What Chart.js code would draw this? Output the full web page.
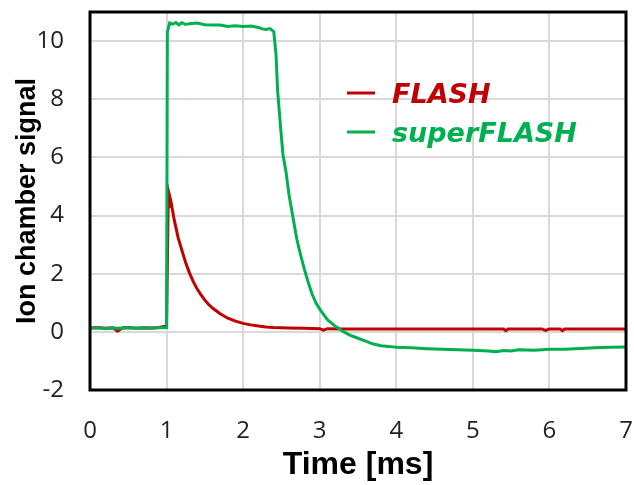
<!DOCTYPE html>
<html>
<head>
<meta charset="utf-8">
<script src="https://cdn.jsdelivr.net/npm/chart.js@4"></script>
<style>
  html, body { margin: 0; padding: 0; background: #fff; }
  #wrap { width: 634px; height: 485px; position: relative; }
</style>
</head>
<body>
<div id="wrap"><canvas id="myChart"></canvas></div>
<script>
// Ion chamber traces, time in ms
const flashTime = [0, 0.1, 0.2, 0.3, 0.36, 0.42, 0.5, 0.6, 0.7, 0.8, 0.9, 1.0, 1.02, 1.03, 1.06, 1.1, 1.15, 1.2, 1.25, 1.3, 1.35, 1.4, 1.45, 1.5, 1.55, 1.6, 1.7, 1.8, 1.9, 2.0, 2.1, 2.2, 2.3, 2.4, 2.6, 2.8, 3.0, 3.05, 3.1, 3.3, 3.6, 4.0, 4.5, 5.0, 5.4, 5.43, 5.46, 5.9, 5.95, 6.0, 6.14, 6.17, 6.2, 6.6, 7.0]
const flashSignal = [0.13, 0.15, 0.12, 0.14, 0.02, 0.13, 0.15, 0.12, 0.14, 0.13, 0.15, 0.2, 4.3, 4.78, 4.45, 3.85, 3.25, 2.8, 2.38, 2.02, 1.72, 1.47, 1.27, 1.09, 0.94, 0.82, 0.62, 0.47, 0.37, 0.29, 0.24, 0.2, 0.17, 0.15, 0.13, 0.12, 0.11, 0.06, 0.11, 0.1, 0.1, 0.1, 0.1, 0.1, 0.1, 0.04, 0.1, 0.1, 0.05, 0.1, 0.1, 0.04, 0.1, 0.1, 0.1]

const superTime = [0, 0.1, 0.2, 0.3, 0.4, 0.5, 0.6, 0.7, 0.8, 0.9, 1.0, 1.01, 1.04, 1.08, 1.12, 1.16, 1.2, 1.25, 1.3, 1.4, 1.5, 1.6, 1.7, 1.8, 1.9, 2.0, 2.1, 2.2, 2.25, 2.3, 2.35, 2.4, 2.43, 2.45, 2.49, 2.52, 2.56, 2.6, 2.65, 2.7, 2.75, 2.8, 2.85, 2.9, 2.95, 3.0, 3.1, 3.2, 3.3, 3.4, 3.5, 3.6, 3.7, 3.8, 3.9, 4.0, 4.2, 4.4, 4.6, 4.8, 5.0, 5.2, 5.3, 5.4, 5.5, 5.6, 5.8, 6.0, 6.2, 6.4, 6.6, 6.8, 7.0]
const superSignal = [0.12, 0.14, 0.11, 0.13, 0.12, 0.14, 0.12, 0.13, 0.12, 0.14, 0.15, 10.3, 10.62, 10.58, 10.64, 10.56, 10.63, 10.57, 10.6, 10.62, 10.56, 10.55, 10.55, 10.5, 10.53, 10.5, 10.52, 10.47, 10.42, 10.4, 10.43, 10.33, 9.5, 8.3, 7.0, 6.1, 5.5, 4.7, 3.95, 3.2, 2.65, 2.15, 1.7, 1.3, 1.0, 0.78, 0.42, 0.2, 0.02, -0.12, -0.22, -0.32, -0.42, -0.48, -0.5, -0.53, -0.55, -0.58, -0.6, -0.62, -0.63, -0.66, -0.68, -0.64, -0.66, -0.62, -0.63, -0.6, -0.6, -0.57, -0.55, -0.53, -0.52]

const xTicks = [0, 1, 2, 3, 4, 5, 6, 7]
const yTicks = [-2, 0, 2, 4, 6, 8, 10]

const seriesNames = ['FLASH', 'superFLASH']
const seriesColors = ['#c00000', '#00b050']

const toPoints = (xs, ys) => xs.map((x, i) => ({ x: x, y: ys[i] }))

// frame around the plot area
const framePlugin = {
  id: 'frame',
  afterDatasetsDraw(chart) {
    const { ctx, chartArea: a } = chart
    ctx.save()
    ctx.strokeStyle = '#000'
    ctx.lineWidth = 3
    ctx.strokeRect(a.left, a.top, a.right - a.left, a.bottom - a.top)
    ctx.restore()
  }
}

// legend drawn inside the plot
const insideLegend = {
  id: 'insideLegend',
  afterDatasetsDraw(chart) {
    const { ctx } = chart
    ctx.save()
    seriesNames.forEach((name, i) => {
      const y = 93 + i * 39
      ctx.strokeStyle = seriesColors[i]
      ctx.lineWidth = 3
      ctx.beginPath()
      ctx.moveTo(347, y)
      ctx.lineTo(375, y)
      ctx.stroke()
      ctx.fillStyle = seriesColors[i]
      ctx.font = 'italic bold 27px "DejaVu Sans"'
      ctx.textBaseline = 'middle'
      ctx.fillText(name, 392, y + 3)
    })
    ctx.restore()
  }
}

const canvas = document.getElementById('myChart')

const tickFont = { family: 'Open Sans', size: 24 }

const config = {
  type: 'line',
  data: {
    datasets: [
      {
        label: seriesNames[1],
        data: toPoints(superTime, superSignal),
        borderColor: seriesColors[1],
        borderWidth: 3,
        pointRadius: 0,
        tension: 0
      },
      {
        label: seriesNames[0],
        data: toPoints(flashTime, flashSignal),
        borderColor: seriesColors[0],
        borderWidth: 3,
        pointRadius: 0,
        tension: 0
      }
    ]
  },
  options: {
    responsive: true,
    maintainAspectRatio: false,
    animation: false,
    layout: { padding: { top: 12, right: 8, left: 0, bottom: 0 } },
    plugins: {
      legend: { display: false },
      tooltip: { enabled: false }
    },
    scales: {
      x: {
        type: 'linear',
        min: 0,
        max: 7,
        afterBuildTicks: s => { s.ticks = xTicks.map(v => ({ value: v })) },
        afterFit: s => {
          s.height = 95
          s.paddingLeft = 0
          s.paddingRight = 0
        },
        ticks: { color: '#222', font: tickFont, padding: 27, maxRotation: 0 },
        grid: { color: '#d9d9d9', lineWidth: 2, drawTicks: false },
        border: { display: false },
        title: {
          display: true,
          text: 'Time [ms]',
          color: '#000',
          font: { family: 'Liberation Sans', size: 32, weight: 'bold' },
          padding: { top: 0, bottom: 1 }
        }
      },
      y: {
        type: 'linear',
        min: -2,
        max: 11,
        afterBuildTicks: s => { s.ticks = yTicks.map(v => ({ value: v })) },
        afterFit: s => {
          s.width = 90
          s.paddingTop = 0
          s.paddingBottom = 0
        },
        ticks: { color: '#222', font: tickFont, padding: 26 },
        grid: { color: '#d9d9d9', lineWidth: 2, drawTicks: false },
        border: { display: false },
        title: {
          display: true,
          text: 'Ion chamber signal',
          color: '#000',
          font: { family: 'Liberation Sans', size: 27, weight: 'bold' },
          padding: { top: 11, bottom: 0 }
        }
      }
    }
  },
  plugins: [framePlugin, insideLegend]
}

new Chart(canvas, config)
</script>
</body>
</html>
